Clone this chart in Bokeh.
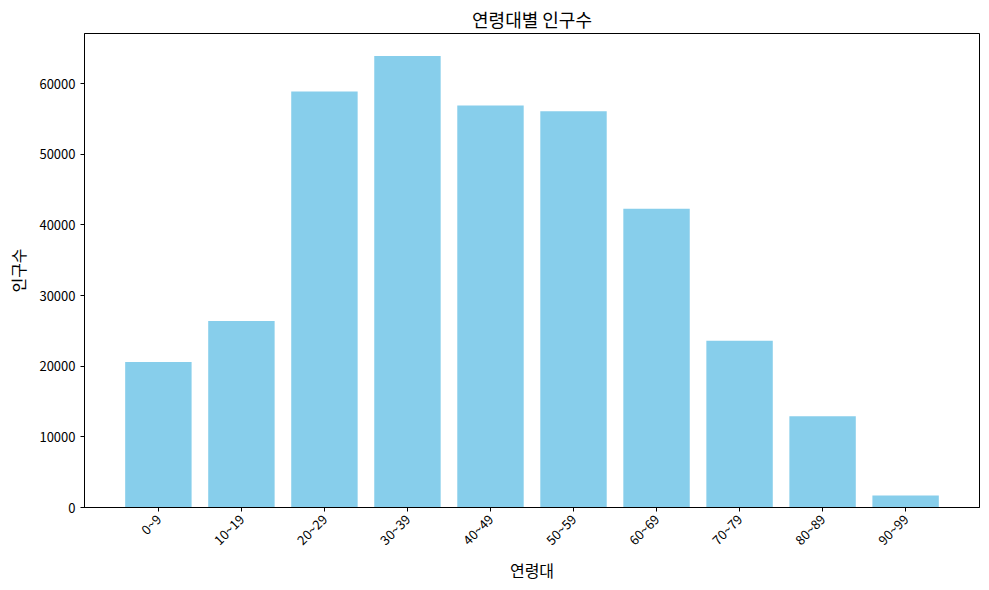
import math
from bokeh.plotting import figure
from bokeh.models import FixedTicker, Range1d
from bokeh.embed import file_html
from bokeh.resources import INLINE

categories = ["0~9", "10~19", "20~29", "30~39", "40~49", "50~59", "60~69", "70~79", "80~89", "90~99"]
population = [20600, 26400, 58900, 63900, 56900, 56100, 42300, 23600, 12900, 1700]
y_ticks = [0, 10000, 20000, 30000, 40000, 50000, 60000]

FONT = "Noto Sans CJK KR"
xs = list(range(len(categories)))

p = figure(
    output_backend="svg", toolbar_location=None,
    frame_width=895, frame_height=474,
    min_border_left=84, min_border_right=2, min_border_top=33, min_border_bottom=75,
    x_range=Range1d(-0.89, len(categories) - 1 + 0.89),
    y_range=Range1d(0, max(population) * 1.05),
    title="연령대별 인구수",
)
p.vbar(x=xs, top=population, width=0.8, color="#87CEEB", line_color=None)

p.title.align = "center"
p.title.text_font = FONT
p.title.text_font_size = "18px"
p.title.text_font_style = "normal"
p.title.text_color = "#000000"
p.title.standoff = 4

p.xaxis.ticker = FixedTicker(ticks=xs)
p.xaxis.major_label_overrides = {i: c for i, c in enumerate(categories)}
p.xaxis.major_label_orientation = math.pi / 4
p.yaxis.ticker = FixedTicker(ticks=y_ticks)
p.xaxis.axis_label = "연령대"
p.yaxis.axis_label = "인구수"

for ax in (p.xaxis[0], p.yaxis[0]):
    ax.axis_label_text_font = FONT
    ax.axis_label_text_font_size = "16px"
    ax.axis_label_text_font_style = "normal"
    ax.axis_label_text_color = "#000000"
    ax.major_label_text_font = FONT
    ax.major_label_text_font_size = "13px"
    ax.major_label_text_color = "#000000"
    ax.axis_line_color = "#000000"
    ax.major_tick_line_color = "#000000"
    ax.major_tick_out = 4
    ax.major_tick_in = 0
    ax.minor_tick_line_color = None
p.xaxis.axis_label_standoff = 0
p.yaxis.axis_label_standoff = 6

p.xgrid.grid_line_color = None
p.ygrid.grid_line_color = None
p.outline_line_color = "#000000"
p.outline_line_alpha = 1.0
p.background_fill_color = "white"

open("out.html", "w").write(file_html(p, INLINE))
